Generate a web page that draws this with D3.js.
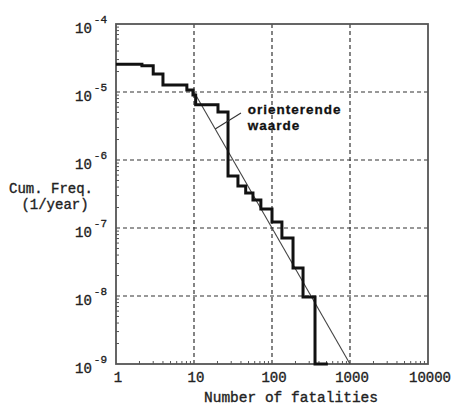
<!DOCTYPE html>
<html>
<head>
<meta charset="utf-8">
<style>
body { margin: 0; background: #fff; }
text { font-family: "Liberation Mono", "DejaVu Sans Mono", monospace; fill: #222; stroke: #222; stroke-width: 0.35px; }
.grid line { stroke: #333; stroke-width: 1.2px; stroke-dasharray: 4,3; }
.lbl { font-weight: 700; font-family: "Liberation Sans", Arial, sans-serif; fill: #111; stroke: #111; stroke-width: 0.3px; }
</style>
</head>
<body>
<script src="https://cdn.jsdelivr.net/npm/d3@7"></script>
<script>

// step curve: freq[i] holds from stepN[i] up to stepN[i+1]
var stepN = [1, 2.15, 3, 4, 8.1, 9.7, 10.5, 20.3, 27.3, 36.6, 46, 57, 72, 100, 134, 186, 250, 356, 520];
var stepF = [2.55e-5, 2.44e-5, 1.84e-5, 1.27e-5, 1.07e-5, 9.0e-6, 6.5e-6, 5.1e-6, 5.8e-7, 4.15e-7, 3.27e-7, 2.58e-7, 1.9e-7, 1.23e-7, 7.1e-8, 2.58e-8, 9.7e-9, 1e-9];

// orienting value line
var refN = [10, 1000];
var refF = [1e-5, 1e-9];

var xTicks = [1, 10, 100, 1000, 10000];
var yExp = [-4, -5, -6, -7, -8, -9];

var width = 464, height = 415;
var mLeft = 116, mTop = 24, mRight = 428, mBottom = 364;

var svg = d3.select("body").append("svg")
    .attr("width", width)
    .attr("height", height);

var x = d3.scaleLog().domain([1, 10000]).range([mLeft, mRight]);
var y = d3.scaleLog().domain([1e-9, 1e-4]).range([mBottom, mTop]);

// grid
var grid = svg.append("g").attr("class", "grid");
grid.selectAll(".vx").data(xTicks.slice(1, -1)).enter().append("line")
    .attr("x1", d => x(d)).attr("x2", d => x(d))
    .attr("y1", mTop).attr("y2", mBottom);
grid.selectAll(".hy").data(yExp.slice(1, -1)).enter().append("line")
    .attr("y1", d => y(Math.pow(10, d))).attr("y2", d => y(Math.pow(10, d)))
    .attr("x1", mLeft).attr("x2", mRight);

// minor ticks on left and bottom
var minorX = [];
for (var e = 0; e < 4; e++) for (var m = 2; m < 10; m++) minorX.push(m * Math.pow(10, e));
var minorY = [];
for (var e2 = -9; e2 < -4; e2++) for (var m2 = 2; m2 < 10; m2++) minorY.push(m2 * Math.pow(10, e2));

svg.append("g").selectAll("line").data(minorX).enter().append("line")
    .attr("x1", d => x(d)).attr("x2", d => x(d))
    .attr("y1", mBottom).attr("y2", mBottom - 3)
    .attr("stroke", "#555");
svg.append("g").selectAll("line").data(minorY).enter().append("line")
    .attr("y1", d => y(d)).attr("y2", d => y(d))
    .attr("x1", mLeft).attr("x2", mLeft + 3)
    .attr("stroke", "#555");

// frame
svg.append("rect")
    .attr("x", mLeft).attr("y", mTop)
    .attr("width", mRight - mLeft).attr("height", mBottom - mTop)
    .attr("fill", "none").attr("stroke", "#555").attr("stroke-width", 1.8);

// reference line
var line = d3.line().x(d => x(d[0])).y(d => y(d[1]));
svg.append("path")
    .attr("d", line(refN.map((n, i) => [n, refF[i]])))
    .attr("fill", "none").attr("stroke", "#444").attr("stroke-width", 1.1);

// step curve
var pts = [];
for (var i = 0; i < stepF.length; i++) {
  pts.push([stepN[i], stepF[i]]);
  pts.push([stepN[i + 1], stepF[i]]);
}
svg.append("path")
    .attr("d", line(pts))
    .attr("fill", "none").attr("stroke", "#111").attr("stroke-width", 3)
    .attr("stroke-linejoin", "miter");

// annotation
var annN = 49, annF = 4.75e-6;
var ptrN = 40, ptrF = 4.9e-6, ptrEnd = 18.7;
svg.append("line")
    .attr("x1", x(ptrN)).attr("y1", y(ptrF))
    .attr("x2", x(ptrEnd)).attr("y2", y(1e-3 / (ptrEnd * ptrEnd)))
    .attr("stroke", "#333").attr("stroke-width", 1.1);
svg.append("text").attr("class", "lbl")
    .attr("x", x(annN)).attr("y", y(annF))
    .attr("font-size", "13.5px")
    .attr("letter-spacing", "1px")
    .text("orienterende");
svg.append("text").attr("class", "lbl")
    .attr("x", x(annN)).attr("y", y(annF) + 16)
    .attr("font-size", "13.5px")
    .attr("letter-spacing", "1px")
    .text("waarde");

// x tick labels
svg.append("g").selectAll("text").data(xTicks).enter().append("text")
    .attr("x", d => x(d) + 2)
    .attr("y", mBottom + 18)
    .attr("text-anchor", "middle")
    .attr("font-size", "14px")
    .text(d => d);

// y tick labels
var yl = svg.append("g").selectAll("text").data(yExp).enter().append("text")
    .attr("x", mLeft - 41)
    .attr("y", d => y(Math.pow(10, d)) + 9)
    .attr("font-size", "14px");
yl.append("tspan").text("10");
yl.append("tspan")
    .attr("font-size", "11px")
    .attr("dx", 2)
    .attr("dy", -10.5)
    .text(d => d);

// axis titles
svg.append("text")
    .attr("x", 291).attr("y", mBottom + 38)
    .attr("text-anchor", "middle")
    .attr("font-size", "14.5px")
    .text("Number of fatalities");
svg.append("text")
    .attr("x", 51).attr("y", 193)
    .attr("text-anchor", "middle")
    .attr("font-size", "14px")
    .text("Cum. Freq.");
svg.append("text")
    .attr("x", 55).attr("y", 209)
    .attr("text-anchor", "middle")
    .attr("font-size", "14px")
    .text("(1/year)");

</script>
</body>
</html>
